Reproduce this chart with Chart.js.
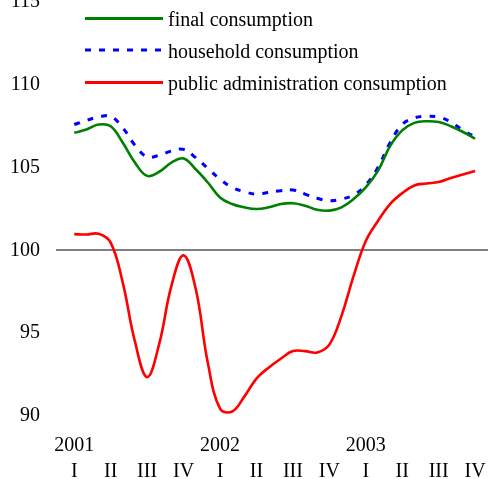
<!DOCTYPE html>
<html>
<head>
<meta charset="utf-8">
<script src="https://cdn.jsdelivr.net/npm/chart.js@4"></script>
<style>
  html, body { margin: 0; padding: 0; background: #fff; overflow: hidden; }
  #wrap { position: absolute; left: 0; top: -26px; width: 503px; height: 512px; }
</style>
</head>
<body>
<div id="wrap"><canvas id="myChart" width="503" height="512"></canvas></div>
<script>
// quarters shown on the axis, data sampled monthly (3 per quarter)
const years = ['2001', '2002', '2003'];
const quarters = ['I', 'II', 'III', 'IV'];

const finalCons = [107.1, 107.3, 107.6, 107.5, 106.5, 105.3, 104.5, 104.75, 105.3, 105.55,
  104.9, 104.1, 103.2, 102.8, 102.6, 102.5, 102.6, 102.8, 102.85, 102.7,
  102.45, 102.4, 102.6, 103.1, 103.8, 104.8, 106.3, 107.25, 107.7, 107.8,
  107.75, 107.5, 107.15, 106.75];

const householdCons = [107.6, 107.85, 108.05, 108.1, 107.4, 106.35, 105.65, 105.75, 106.0, 106.1,
  105.6, 104.95, 104.3, 103.8, 103.55, 103.4, 103.5, 103.6, 103.65, 103.4,
  103.15, 103.0, 103.1, 103.35, 103.95, 105.0, 106.5, 107.6, 108.0, 108.1,
  108.05, 107.75, 107.25, 106.85];

const publicCons = [100.98, 100.96, 101.0, 100.47, 98.04, 94.49, 92.35, 94.37, 97.86, 99.7,
  97.68, 93.2, 90.45, 90.27, 91.17, 92.26, 92.92, 93.46, 93.92, 93.92,
  93.84, 94.31, 96.05, 98.46, 100.57, 101.78, 102.8, 103.46, 103.92, 104.04,
  104.13, 104.37, 104.58, 104.79];

const yTicks = [90, 95, 100, 105, 110, 115];

const serif = "'Liberation Serif', 'Times New Roman', serif";

function toPoints(arr) {
  return arr.map((v, i) => ({ x: i / 3, y: v }));
}

function quarterLabel(value) {
  const q = Math.round(value);
  const top = q % 4 === 0 ? years[q / 4] : '';
  return [top, quarters[q % 4]];
}

// legend drawn inside the plot, top left
const innerLegend = {
  id: 'innerLegend',
  afterDraw(chart) {
    const c = chart.ctx;
    const rows = [44.5, 76, 108.5];
    c.save();
    chart.data.datasets.forEach((ds, i) => {
      const y = rows[i];
      c.beginPath();
      c.strokeStyle = ds.borderColor;
      c.lineWidth = 3;
      c.setLineDash(ds.borderDash || []);
      c.moveTo(85, y);
      c.lineTo(163, y);
      c.stroke();
      c.setLineDash([]);
      c.fillStyle = '#000';
      c.font = '20px ' + serif;
      c.textBaseline = 'alphabetic';
      c.textAlign = 'left';
      c.fillText(ds.label, 168, y + 7.5);
    });
    c.restore();
  }
};

const ctx = document.getElementById('myChart').getContext('2d');
const myChart = new Chart(ctx, {
  type: 'line',
  data: {
    datasets: [{
      label: 'final consumption',
      data: toPoints(finalCons),
      borderColor: '#008000',
      borderWidth: 2.6,
      pointRadius: 0,
      tension: 0.4
    }, {
      label: 'household consumption',
      data: toPoints(householdCons),
      borderColor: '#0000ff',
      borderWidth: 3,
      borderDash: [6, 8],
      pointRadius: 0,
      tension: 0.4
    }, {
      label: 'public administration consumption',
      data: toPoints(publicCons),
      borderColor: '#ff0000',
      borderWidth: 2.6,
      pointRadius: 0,
      tension: 0.4
    }]
  },
  options: {
    responsive: false,
    animation: false,
    layout: { padding: { left: 10, right: 8, top: 0, bottom: 0 } },
    plugins: {
      legend: { display: false },
      tooltip: { enabled: false }
    },
    scales: {
      x: {
        type: 'linear',
        min: -0.5,
        max: 11.5,
        afterBuildTicks: s => { s.ticks = Array.from({ length: 12 }, (_, i) => ({ value: i })); },
        afterFit: s => { s.height = 70; },
        grid: { display: false, drawTicks: false },
        border: { display: false },
        ticks: {
          callback: quarterLabel,
          color: '#000',
          padding: 17,
          maxRotation: 0,
          autoSkip: false,
          font: { family: serif, size: 20, lineHeight: '26px' }
        }
      },
      y: {
        min: 90,
        max: 115,
        afterBuildTicks: s => { s.ticks = yTicks.map(v => ({ value: v })); },
        afterFit: s => { s.width = 46; },
        border: { display: false },
        grid: {
          drawTicks: false,
          lineWidth: 2,
          color: c => (c.tick && c.tick.value === 100 ? '#808080' : 'rgba(0,0,0,0)')
        },
        ticks: {
          color: '#000',
          padding: 16,
          font: { family: serif, size: 20 }
        }
      }
    }
  },
  plugins: [innerLegend]
});
</script>
</body>
</html>
